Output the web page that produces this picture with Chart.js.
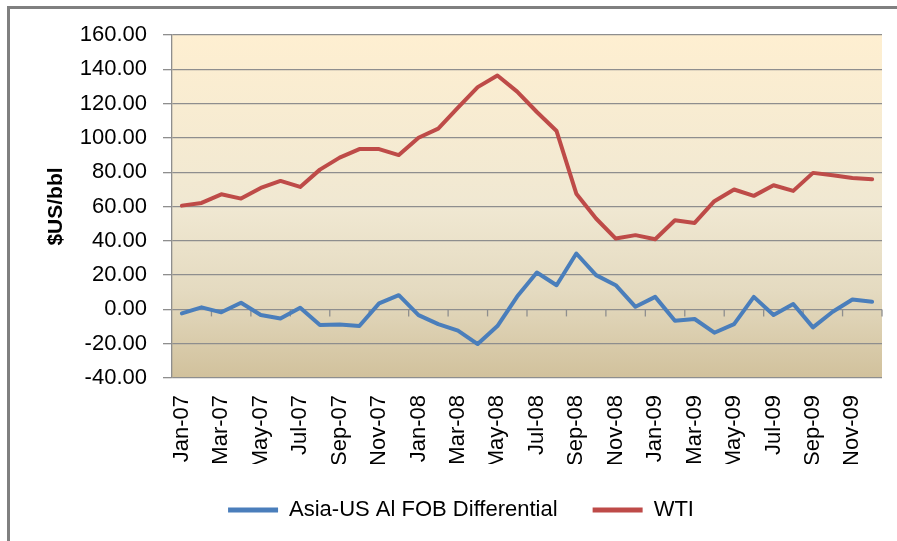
<!DOCTYPE html>
<html>
<head>
<meta charset="utf-8">
<script src="https://cdn.jsdelivr.net/npm/chart.js@4"></script>
<style>
  html, body { margin: 0; padding: 0; background: #ffffff; }
  #wrap { position: relative; width: 897px; height: 541px; }
</style>
</head>
<body>
<div id="wrap"><canvas id="c" width="897" height="541"></canvas></div>
<script>
const categories = [
  'Jan-07','Feb-07','Mar-07','Apr-07','May-07','Jun-07','Jul-07','Aug-07','Sep-07','Oct-07','Nov-07','Dec-07',
  'Jan-08','Feb-08','Mar-08','Apr-08','May-08','Jun-08','Jul-08','Aug-08','Sep-08','Oct-08','Nov-08','Dec-08',
  'Jan-09','Feb-09','Mar-09','Apr-09','May-09','Jun-09','Jul-09','Aug-09','Sep-09','Oct-09','Nov-09','Dec-09'
];
const asiaUsDiff = [-2.3, 1.2, -1.7, 3.9, -3.3, -5.3, 0.9, -9.1, -8.8, -9.7, 3.5, 8.3,
  -3.3, -8.6, -12.4, -20.2, -9.7, 7.5, 21.5, 14.1, 32.6, 20.0, 14.1, 1.5,
  7.3, -6.6, -5.6, -13.6, -8.6, 7.3, -3.3, 3.1, -10.5, -1.4, 5.8, 4.4];
const wti = [60.5, 62.1, 67.1, 64.6, 70.8, 74.9, 71.4, 81.5, 88.5, 93.5, 93.5, 90.0,
  100.1, 105.4, 117.6, 129.6, 136.4, 127.0, 115.1, 104.0, 67.5, 53.0, 41.3, 43.3,
  40.9, 52.0, 50.4, 63.1, 69.9, 66.2, 72.4, 69.1, 79.6, 78.2, 76.6, 75.9];
const seriesNames = ['Asia-US Al FOB Differential', 'WTI'];
const yMin = -40, yMax = 160, yStep = 20;
const yTitle = '$US/bbl';

const FONT = '"Liberation Sans", Arial, sans-serif';
const GRID = '#8e8e8e';

const decor = {
  id: 'decor',
  beforeDraw(chart) {
    const {ctx, chartArea: a} = chart;
    const g = ctx.createLinearGradient(0, a.top, 0, a.bottom);
    g.addColorStop(0, '#FEEFD1');
    g.addColorStop(0.5, '#F0E8D2');
    g.addColorStop(0.75, '#E4DAC0');
    g.addColorStop(1, '#D1C19C');
    ctx.save();
    ctx.fillStyle = g;
    ctx.fillRect(a.left, a.top, a.right - a.left, a.bottom - a.top);
    ctx.restore();
  },
  beforeDatasetsDraw(chart) {
    const {ctx, chartArea: a, scales: {x, y}} = chart;
    const y0 = y.getPixelForValue(0);
    const n = categories.length;
    ctx.save();
    ctx.strokeStyle = GRID;
    ctx.lineWidth = 1.3;
    for (let k = 2; k <= n; k += 2) {
      const px = k < n ? (x.getPixelForValue(k - 1) + x.getPixelForValue(k)) / 2 : a.right;
      ctx.beginPath();
      ctx.moveTo(px, y0);
      ctx.lineTo(px, y0 + 7);
      ctx.stroke();
    }
    ctx.restore();
  },
  afterDraw(chart) {
    const ctx = chart.ctx;
    ctx.save();
    ctx.fillStyle = '#808080';
    ctx.fillRect(7, 6, 3, 541);
    ctx.fillRect(7, 6, 897, 3);
    ctx.restore();
  }
};

new Chart(document.getElementById('c'), {
  type: 'line',
  data: {
    labels: categories,
    datasets: [
      { label: seriesNames[0], data: asiaUsDiff, borderColor: '#4A7EBB', backgroundColor: '#4A7EBB',
        borderWidth: 4, pointRadius: 0, tension: 0, borderJoinStyle: 'round', borderCapStyle: 'round' },
      { label: seriesNames[1], data: wti, borderColor: '#BE4B48', backgroundColor: '#BE4B48',
        borderWidth: 4, pointRadius: 0, tension: 0, borderJoinStyle: 'round', borderCapStyle: 'round' }
    ]
  },
  options: {
    responsive: false,
    animation: false,
    devicePixelRatio: 1,
    layout: { padding: { top: 35, left: 40, right: 15, bottom: 10 } },
    plugins: {
      tooltip: { enabled: false },
      legend: {
        position: 'bottom',
        labels: {
          font: { family: FONT, size: 22 },
          color: '#000',
          boxWidth: 50,
          boxHeight: 5,
          padding: 35,
          generateLabels(chart) {
            return chart.data.datasets.map((ds, i) => ({
              text: ds.label, fillStyle: ds.borderColor, strokeStyle: ds.borderColor,
              lineWidth: 0, hidden: false, datasetIndex: i, fontColor: '#000'
            }));
          }
        }
      }
    },
    scales: {
      x: {
        type: 'category',
        offset: true,
        afterFit(s) { s.height = 86; s.paddingLeft = 0; s.paddingRight = 0; },
        grid: { display: true, color: 'rgba(0,0,0,0)', drawTicks: false },
        border: { display: false },
        ticks: {
          autoSkip: false, minRotation: 90, maxRotation: 90, padding: 17,
          color: '#000', font: { family: FONT, size: 22 },
          callback(v, i) { return i % 2 === 0 ? categories[i] : ''; }
        }
      },
      y: {
        min: yMin, max: yMax,
        afterFit(s) { s.width = 132; },
        grid: { color: GRID, lineWidth: 1.3, drawTicks: true, tickLength: 9, tickColor: GRID },
        border: { display: true, color: GRID, width: 1.3 },
        ticks: {
          stepSize: yStep, padding: 16, color: '#000',
          font: { family: FONT, size: 22 },
          callback(v) { return Number(v).toFixed(2); }
        },
        title: {
          display: true, text: yTitle, color: '#000',
          font: { family: FONT, size: 21, weight: 'bold' },
          padding: { top: 4, bottom: 0 }
        }
      }
    }
  },
  plugins: [decor]
});
</script>
</body>
</html>
